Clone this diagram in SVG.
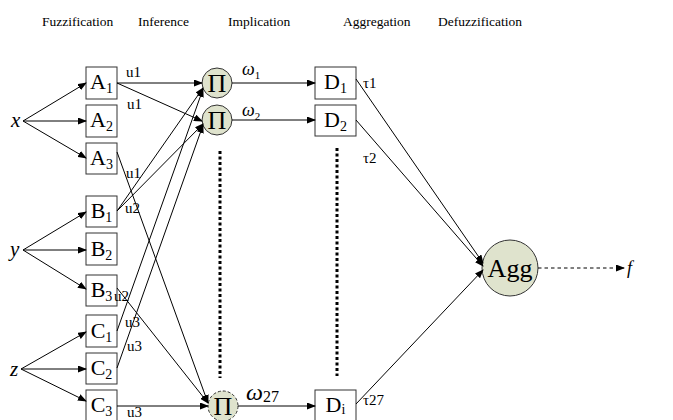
<svg xmlns="http://www.w3.org/2000/svg" width="673" height="420" viewBox="0 0 673 420">
<defs>
<marker id="ah" markerUnits="userSpaceOnUse" markerWidth="9" markerHeight="7" refX="8" refY="3.5" orient="auto">
<path d="M0,0 L9,3.5 L0,7 Z" fill="#000"/>
</marker>
<style>
text{font-family:"Liberation Serif","Times New Roman",serif;fill:#000}
.hdr{font-size:13.5px}
.box{fill:#fff;stroke:#333;stroke-width:1}
.lbl{font-size:22px;text-anchor:middle}
.pi{font-size:26px;text-anchor:middle}
.sub{font-size:14px}
.node{fill:#dfe3cd;stroke:#333;stroke-width:1}
.ln{stroke:#000;stroke-width:1;fill:none;marker-end:url(#ah)}
.sm{font-size:15px}
.it{font-style:italic}
.dot{stroke:#000;stroke-width:3;stroke-dasharray:3 2.5;fill:none}
</style>
</defs>
<rect width="673" height="420" fill="#fff"/>
<g id="headers">
<text class="hdr" x="42" y="26">Fuzzification</text>
<text class="hdr" x="138" y="26">Inference</text>
<text class="hdr" x="228" y="26">Implication</text>
<text class="hdr" x="343" y="26">Aggregation</text>
<text class="hdr" x="438" y="26">Defuzzification</text>
</g>
<g id="in-x"><text class="it" x="11" y="127" font-size="21">x</text></g>
<g id="in-y"><text class="it" x="10" y="256" font-size="21">y</text></g>
<g id="in-z"><text class="it" x="10" y="376" font-size="21">z</text></g>
<g id="A1"><rect class="box" x="86" y="67" width="31" height="32"/><text class="lbl" x="101.5" y="89">A<tspan class="sub" dy="4">1</tspan></text></g>
<g id="A2"><rect class="box" x="86" y="105" width="31" height="32"/><text class="lbl" x="101.5" y="127">A<tspan class="sub" dy="4">2</tspan></text></g>
<g id="A3"><rect class="box" x="86" y="143" width="31" height="31"/><text class="lbl" x="101.5" y="165">A<tspan class="sub" dy="4">3</tspan></text></g>
<g id="B1"><rect class="box" x="86" y="196" width="31" height="31"/><text class="lbl" x="101.5" y="218">B<tspan class="sub" dy="4">1</tspan></text></g>
<g id="B2"><rect class="box" x="86" y="233" width="31" height="32"/><text class="lbl" x="101.5" y="256">B<tspan class="sub" dy="4">2</tspan></text></g>
<g id="B3"><rect class="box" x="86" y="275" width="31" height="31"/><text class="lbl" x="101.5" y="297">B<tspan class="sub" dy="4">3</tspan></text></g>
<g id="C1"><rect class="box" x="86" y="315" width="31" height="32"/><text class="lbl" x="101.5" y="338">C<tspan class="sub" dy="4">1</tspan></text></g>
<g id="C2"><rect class="box" x="86" y="353" width="31" height="31"/><text class="lbl" x="101.5" y="375">C<tspan class="sub" dy="4">2</tspan></text></g>
<g id="C3"><rect class="box" x="86" y="390" width="31" height="32"/><text class="lbl" x="101.5" y="412">C<tspan class="sub" dy="4">3</tspan></text></g>
<g id="P1"><circle class="node" cx="217" cy="83" r="15"/><text class="pi" x="217" y="92">Π</text></g>
<g id="P2"><circle class="node" cx="217" cy="120" r="15"/><text class="pi" x="217" y="129">Π</text></g>
<g id="P27"><circle class="node" cx="223" cy="406" r="15" stroke-dasharray="3 2"/><text class="pi" x="223" y="415">Π</text></g>
<g id="D1"><rect class="box" x="315" y="67" width="41" height="32"/><text class="lbl" x="335.5" y="89">D<tspan class="sub" dy="4">1</tspan></text></g>
<g id="D2"><rect class="box" x="315" y="105" width="41" height="31"/><text class="lbl" x="335.5" y="127">D<tspan class="sub" dy="4">2</tspan></text></g>
<g id="Di"><rect class="box" x="315" y="390" width="41" height="32"/><text class="lbl" x="335.5" y="412">D<tspan class="sub" dy="2">i</tspan></text></g>
<g id="Agg"><circle class="node" cx="510" cy="268" r="28"/><text x="510" y="277" font-size="26" text-anchor="middle">Agg</text></g>
<g id="out-f"><text class="it" x="627" y="274" font-size="18">f</text></g>
<g id="connectors">
<line class="ln" x1="23" y1="121" x2="86" y2="83"/>
<line class="ln" x1="23" y1="121" x2="86" y2="121"/>
<line class="ln" x1="23" y1="121" x2="86" y2="158"/>
<line class="ln" x1="23" y1="250" x2="86" y2="212"/>
<line class="ln" x1="23" y1="250" x2="86" y2="250"/>
<line class="ln" x1="23" y1="250" x2="86" y2="289"/>
<line class="ln" x1="21" y1="369" x2="86" y2="332"/>
<line class="ln" x1="21" y1="369" x2="86" y2="369"/>
<line class="ln" x1="21" y1="369" x2="86" y2="401"/>
<line class="ln" x1="117" y1="83" x2="202" y2="83"/>
<line class="ln" x1="117" y1="83" x2="202" y2="121"/>
<line class="ln" x1="117" y1="211" x2="203" y2="88"/>
<line class="ln" x1="117" y1="211" x2="203" y2="124"/>
<line class="ln" x1="117" y1="331" x2="203" y2="89"/>
<line class="ln" x1="117" y1="368" x2="203" y2="125"/>
<line class="ln" x1="117" y1="152" x2="208" y2="403"/>
<line class="ln" x1="117" y1="288" x2="208" y2="403"/>
<line class="ln" x1="117" y1="406" x2="208" y2="406"/>
<line class="ln" x1="232" y1="83" x2="315" y2="83"/>
<line class="ln" x1="232" y1="120" x2="315" y2="120"/>
<line class="ln" x1="238" y1="406" x2="315" y2="406"/>
<line class="ln" x1="356" y1="79" x2="483" y2="263"/>
<line class="ln" x1="356" y1="120" x2="483" y2="266"/>
<line class="ln" x1="356" y1="404" x2="483" y2="270"/>
<line class="ln" x1="538" y1="268" x2="624" y2="268" stroke-dasharray="3.5 3"/>
<line class="dot" x1="220" y1="151" x2="220" y2="378"/>
<line class="dot" x1="337" y1="148" x2="337" y2="376"/>
</g>
<g id="labels">
<text class="sm" x="126" y="77">u1</text>
<text class="sm" x="127" y="109">u1</text>
<text class="sm" x="126" y="178">u1</text>
<text class="sm" x="125" y="213">u2</text>
<text class="sm" x="114" y="301">u2</text>
<text class="sm" x="125" y="327">u3</text>
<text class="sm" x="127" y="351">u3</text>
<text class="sm" x="127" y="417">u3</text>
<text class="it" x="242" y="75" font-size="18">ω<tspan font-size="11" font-style="normal" dy="4">1</tspan></text>
<text class="it" x="242" y="116" font-size="18">ω<tspan font-size="11" font-style="normal" dy="4">2</tspan></text>
<text class="it" x="246" y="400" font-size="24">ω<tspan font-size="16" font-style="normal" dy="2">27</tspan></text>
<text class="sm" x="363" y="88">τ1</text>
<text class="sm" x="363" y="163">τ2</text>
<text class="sm" x="363" y="405">τ27</text>
</g>
</svg>
